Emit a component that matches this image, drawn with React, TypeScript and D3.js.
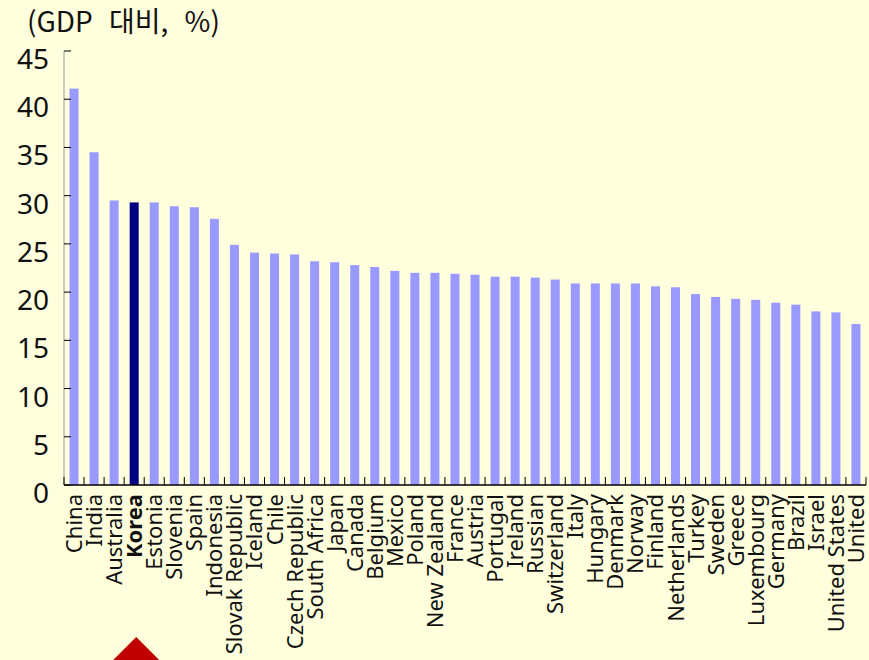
import React from "react";
import { scaleBand, scaleLinear, range } from "d3";

const countries = [
  "China", "India", "Australia", "Korea", "Estonia", "Slovenia", "Spain", "Indonesia",
  "Slovak Republic", "Iceland", "Chile", "Czech Republic", "South Africa", "Japan",
  "Canada", "Belgium", "Mexico", "Poland", "New Zealand", "France", "Austria",
  "Portugal", "Ireland", "Russian", "Switzerland", "Italy", "Hungary", "Denmark",
  "Norway", "Finland", "Netherlands", "Turkey", "Sweden", "Greece", "Luxembourg",
  "Germany", "Brazil", "Israel", "United States", "United",
];
const values = [
  41.1, 34.5, 29.5, 29.3, 29.3, 28.9, 28.8, 27.6,
  24.9, 24.1, 24.0, 23.9, 23.2, 23.1,
  22.8, 22.6, 22.2, 22.0, 22.0, 21.9, 21.8,
  21.6, 21.6, 21.5, 21.3, 20.9, 20.9, 20.9,
  20.9, 20.6, 20.5, 19.8, 19.5, 19.3, 19.2,
  18.9, 18.7, 18.0, 17.9, 16.7,
];
const yTicks = [0, 5, 10, 15, 20, 25, 30, 35, 40, 45];
const highlight = "Korea";
const title = "(GDP 대비, %)";

const W = 869;
const H = 660;
const m = { left: 64, right: 3, top: 51, bottom: 175 };

export default function App() {
  const x = scaleBand<string>()
    .domain(countries)
    .range([m.left, W - m.right])
    .paddingInner(0.55)
    .paddingOuter(0.275);
  const y = scaleLinear().domain([0, 45]).range([H - m.bottom, m.top]);
  const step = x.step();
  const base = y(0);
  const font = "'Noto Sans', 'Open Sans', sans-serif";
  const korX = (x(highlight) ?? 0) + x.bandwidth() / 2 + 2;

  return (
    <div style={{ position: "fixed", left: 0, top: 0 }}>
      <svg width={W} height={H} style={{ display: "block" }}>
        <rect width={W} height={H} fill="#FFFFDD" />
        <text
          x={27}
          y={32}
          fontSize={28}
          wordSpacing={10}
          fontFamily="'Noto Sans CJK KR', sans-serif"
          fill="#111"
        >
          {title}
        </text>

        {/* bars */}
        {countries.map((c, i) => (
          <rect
            key={c}
            x={x(c)}
            y={y(values[i])}
            width={x.bandwidth()}
            height={base - y(values[i])}
            fill={c === highlight ? "#000080" : "#9999FF"}
          />
        ))}

        {/* y axis */}
        <line x1={m.left} x2={m.left} y1={y(45)} y2={base} stroke="#999" strokeWidth={1} />
        {yTicks.map((t) => (
          <g key={t}>
            <line x1={m.left} x2={m.left + 7} y1={y(t)} y2={y(t)} stroke="#000" strokeWidth={1} />
            <text
              x={49}
              y={y(t) + 18}
              textAnchor="end"
              fontSize={28}
              fontFamily={font}
              fill="#111"
            >
              {t}
            </text>
          </g>
        ))}

        {/* x axis */}
        <line x1={m.left} x2={W - m.right} y1={base} y2={base} stroke="#000" strokeWidth={1.5} />
        {range(countries.length + 1).map((i) => {
          const xx = m.left + i * step;
          return <line key={i} x1={xx} x2={xx} y1={base} y2={base - 8} stroke="#000" strokeWidth={1} />;
        })}
        {countries.map((c) => {
          const cx = (x(c) ?? 0) + x.bandwidth() / 2;
          return (
            <text
              key={c}
              transform={`translate(${cx + 8},${base + 9}) rotate(-90)`}
              textAnchor="end"
              fontSize={22}
              fontFamily={font}
              fontWeight={c === highlight ? "bold" : "normal"}
              fill="#111"
            >
              {c}
            </text>
          );
        })}

        {/* marker */}
        <path
          d={`M${korX},${637} L${korX + 30},${667} L${korX - 30},${667} Z`}
          fill="#C00000"
        />
      </svg>
    </div>
  );
}
